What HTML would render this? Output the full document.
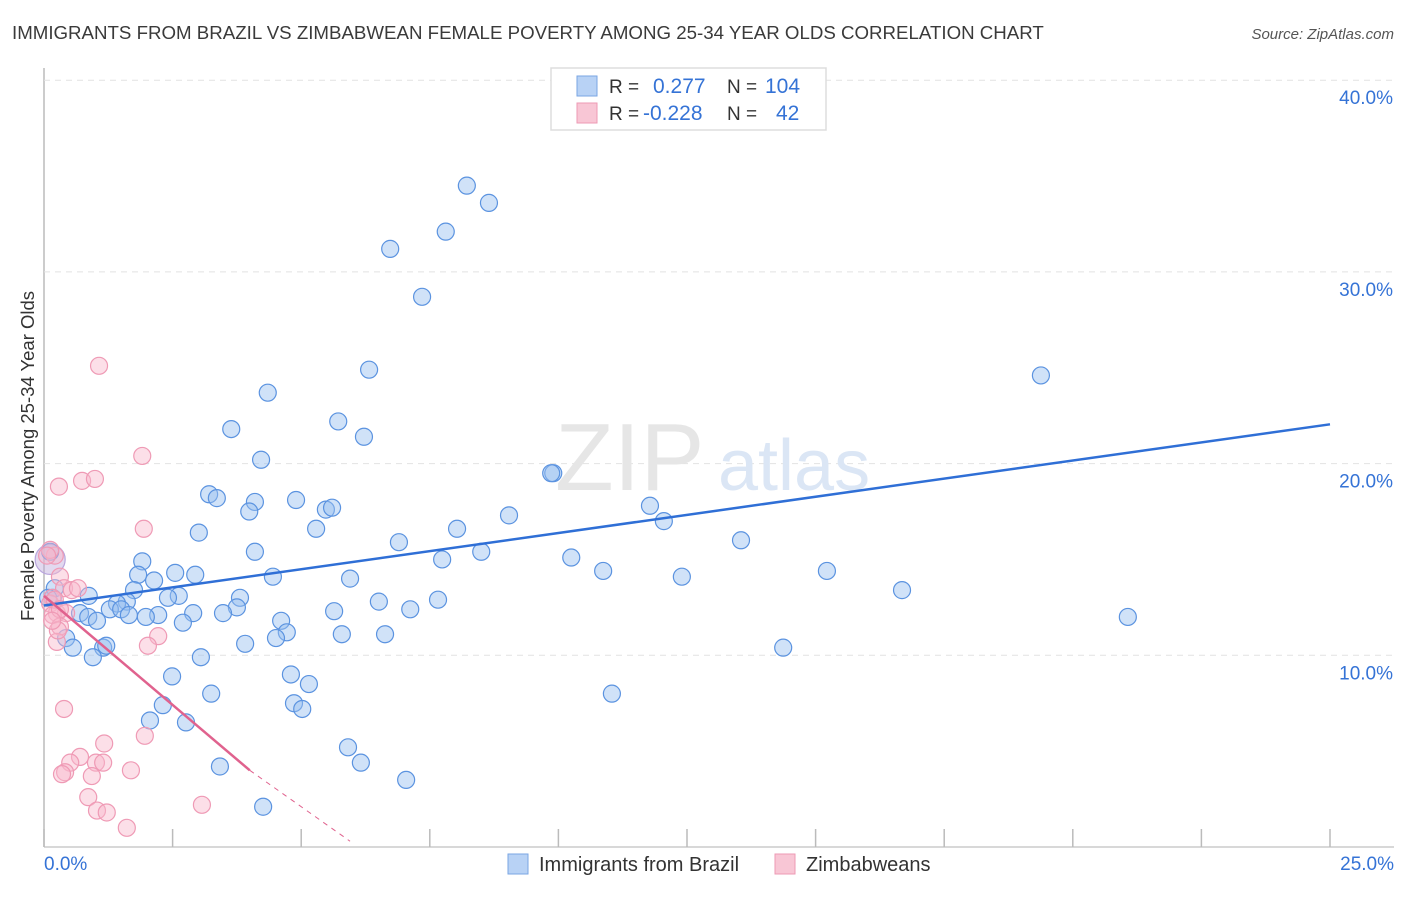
<!DOCTYPE html>
<html><head><meta charset="utf-8"><style>
body{margin:0;background:#fff;font-family:"Liberation Sans",sans-serif}
svg text{font-family:"Liberation Sans",sans-serif}
</style></head><body>
<svg id="chart" width="1406" height="892" viewBox="0 0 1406 892" xmlns="http://www.w3.org/2000/svg">
<text x="12" y="39" font-size="18.7" fill="#3a3a3a">IMMIGRANTS FROM BRAZIL VS ZIMBABWEAN FEMALE POVERTY AMONG 25-34 YEAR OLDS CORRELATION CHART</text>
<text x="1394" y="39" font-size="15" fill="#555" text-anchor="end" font-style="italic">Source: ZipAtlas.com</text>
<g id="grid"></g>
<text x="555" y="490" font-size="96" fill="#e6e6e6" font-family="Liberation Serif">ZIP</text>
<text x="718" y="490" font-size="72" fill="#dbe6f5">atlas</text>
<text transform="translate(34,456) rotate(-90)" font-size="18.5" fill="#333" text-anchor="middle">Female Poverty Among 25-34 Year Olds</text>
<g id="pts"></g>
<g id="trend"></g>
<g>
<rect x="551" y="68" width="275" height="62" fill="#fff" stroke="#ddd" stroke-width="1.5"/>
<rect x="577" y="76" width="20" height="20" fill="#b8d2f5" stroke="#7aa6e3"/>
<rect x="577" y="103" width="20" height="20" fill="#f8c6d5" stroke="#ee9ab4"/>
<text x="609" y="93" font-size="19" fill="#333">R = </text><text x="653" y="93" font-size="21" fill="#3573d6">0.277</text>
<text x="727" y="93" font-size="19" fill="#333">N = </text><text x="765" y="93" font-size="21" fill="#3573d6">104</text>
<text x="609" y="120" font-size="19" fill="#333">R = </text><text x="643" y="120" font-size="21" fill="#3573d6">-0.228</text>
<text x="727" y="120" font-size="19" fill="#333">N = </text><text x="776" y="120" font-size="21" fill="#3573d6">42</text>
</g>
<rect x="508" y="854" width="20" height="20" fill="#b8d2f5" stroke="#7aa6e3"/>
<text x="539" y="871" font-size="20" fill="#333">Immigrants from Brazil</text>
<rect x="775" y="854" width="20" height="20" fill="#f8c6d5" stroke="#ee9ab4"/>
<text x="806" y="871" font-size="20" fill="#333">Zimbabweans</text>
</svg>
<script>
const xTicks=[0,2.5,5,7.5,10,12.5,15,17.5,20,22.5,25];
const yTicks=[10,20,30,40];
const yTickLabels=["10.0%","20.0%","30.0%","40.0%"];
const brazilX=[8.22,8.65,7.81,6.73,7.35,19.38,6.32,4.35,5.72,3.64,6.22,4.22,9.90,9.86,3.21,3.36,4.10,4.90,5.48,5.60,3.99,9.04,11.78,12.05,8.03,5.29,3.01,6.90,13.55,4.10,8.50,7.74,10.25,1.91,10.87,15.22,2.55,2.94,1.83,2.14,4.45,5.95,12.40,16.68,1.75,2.62,2.41,0.87,1.61,1.42,3.81,7.66,6.51,7.12,3.75,1.28,1.50,2.90,3.48,5.64,2.22,0.70,0.86,1.98,1.65,2.70,1.03,4.61,21.07,4.72,5.79,6.63,4.51,0.43,3.91,0.56,1.15,1.21,0.95,14.37,3.05,2.49,4.80,5.15,3.25,11.04,2.31,4.86,5.02,2.06,2.76,5.91,6.16,3.42,7.04,4.26,0.12,0.17,0.21,0.08];
const brazilY=[34.5,33.6,32.1,31.2,28.7,24.6,24.9,23.7,22.2,21.8,21.4,20.2,19.5,19.5,18.4,18.2,18.0,18.1,17.6,17.7,17.5,17.3,17.8,17.0,16.6,16.6,16.4,15.9,16.0,15.4,15.4,15.0,15.1,14.9,14.4,14.4,14.3,14.2,14.2,13.9,14.1,14.0,14.1,13.4,13.4,13.1,13.0,13.1,12.8,12.7,13.0,12.9,12.8,12.4,12.5,12.4,12.4,12.2,12.2,12.3,12.1,12.2,12.0,12.0,12.1,11.7,11.8,11.8,12.0,11.2,11.1,11.1,10.9,10.9,10.6,10.4,10.4,10.5,9.9,10.4,9.9,8.9,9.0,8.5,8.0,8.0,7.4,7.5,7.2,6.6,6.5,5.2,4.4,4.2,3.5,2.1,15.4,13.0,13.5,13.0];
const zimX=[1.07,1.91,0.29,0.74,0.99,1.94,0.21,0.31,0.39,0.54,0.66,0.16,0.12,0.25,0.43,0.17,0.31,0.25,2.22,2.02,0.39,1.96,1.17,0.70,0.51,0.41,0.35,1.01,1.15,0.93,0.86,1.03,1.22,1.69,3.07,1.61,0.12,0.06,0.21,0.27,0.31,0.16];
const zimY=[25.1,20.4,18.8,19.1,19.2,16.6,15.2,14.1,13.5,13.4,13.5,13.0,12.7,12.2,12.2,12.1,11.5,10.7,11.0,10.5,7.2,5.8,5.4,4.7,4.4,3.9,3.8,4.4,4.4,3.7,2.6,1.9,1.8,4.0,2.2,1.0,15.5,15.2,12.9,11.3,12.4,11.8];
const X=v=>44+v/25*1286, Y=v=>847-v/10*191.7;
const NS="http://www.w3.org/2000/svg";
function mk(t,a,p){const e=document.createElementNS(NS,t);for(const k in a)e.setAttribute(k,a[k]);p.appendChild(e);return e;}
const g=document.getElementById('grid');
const ax=mk('line',{x1:44,y1:68,x2:44,y2:847,stroke:'#bbb','stroke-width':1.5},g);


const bx=mk('line',{x1:44,y1:847,x2:1394,y2:847,stroke:'#ccc','stroke-width':1.5},g);


yTicks.forEach((t,i)=>{
 const l=mk('line',{x1:44,y1:Y(t),x2:1394,y2:Y(t),stroke:'#e2e2e2','stroke-dasharray':'6,5'},g);
 
 
 const tx=mk('text',{x:1393,y:Y(t)+24,'font-size':19,fill:'#3573d6','text-anchor':'end'},g);
 tx.textContent=yTickLabels[i];
 
 
});
xTicks.forEach(t=>{
 const l=mk('line',{x1:X(t),y1:829,x2:X(t),y2:847,stroke:'#bbb','stroke-width':1.5},g);
 
 
});
const t0=mk('text',{x:44,y:870,'font-size':19,fill:'#3573d6'},g);t0.textContent='0.0%';


const t1=mk('text',{x:1394,y:870,'font-size':19,fill:'#3573d6','text-anchor':'end'},g);t1.textContent='25.0%';


const P=document.getElementById('pts');
const big=mk('circle',{cx:X(0.12),cy:Y(15.0),r:15,fill:'rgba(190,170,220,0.45)',stroke:'#b9a6dd','stroke-width':1.2},P);


brazilX.forEach((x,i)=>{
 const c=mk('circle',{cx:X(x),cy:Y(brazilY[i]),r:8.5,fill:'rgba(150,190,240,0.45)',stroke:'#5b93e0','stroke-width':1.2},P);
 
 
});
zimX.forEach((x,i)=>{
 const c=mk('circle',{cx:X(x),cy:Y(zimY[i]),r:8.5,fill:'rgba(248,185,205,0.45)',stroke:'#ef9ab5','stroke-width':1.2},P);
 
 
});
const T=document.getElementById('trend');
const bl=mk('line',{x1:X(0),y1:Y(12.6),x2:X(25),y2:Y(22.05),stroke:'#2f6fd6','stroke-width':2.5},T);


const pl=mk('line',{x1:X(0),y1:Y(13.1),x2:X(4.0),y2:Y(4.0),stroke:'#e0628e','stroke-width':2.5},T);


const pd=mk('line',{x1:X(4.0),y1:Y(4.0),x2:X(5.95),y2:Y(0.3),stroke:'#e0628e','stroke-width':1,'stroke-dasharray':'5,5'},T);


</script>
</body></html>
